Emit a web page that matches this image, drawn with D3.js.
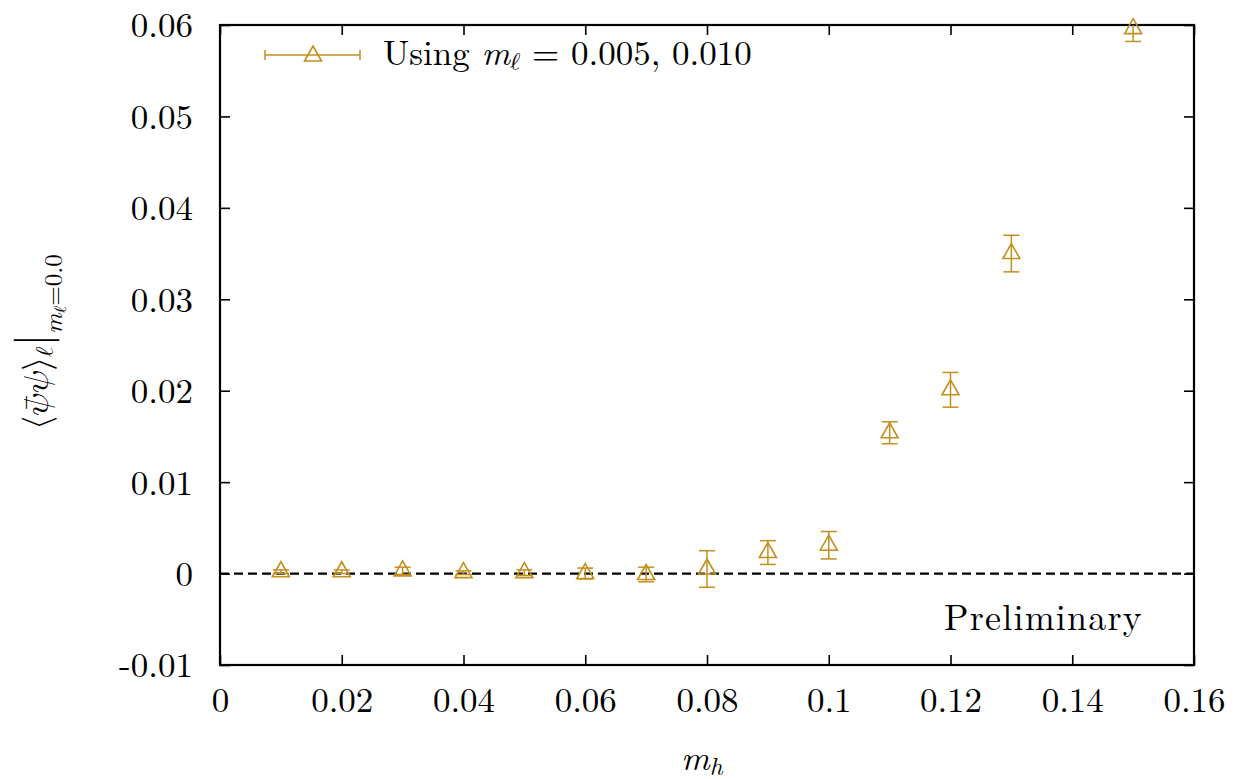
<!DOCTYPE html>
<html>
<head>
<meta charset="utf-8">
<script src="https://cdn.jsdelivr.net/npm/d3@7"></script>
<style>
  html, body { margin: 0; padding: 0; background: #fff; }
  svg { display: block; }
</style>
</head>
<body>
<svg id="chart" width="1239" height="779"></svg>
<script>
// Heavy-quark mass values and the light-quark condensate extrapolated to m_l = 0
const massH = [0.01, 0.02, 0.03, 0.04, 0.05, 0.06, 0.07, 0.08, 0.09, 0.10, 0.11, 0.12, 0.13, 0.15];
const condensate = [0.0002, 0.0002, 0.0003, 0.0001, 0.0001, 0.0000, -0.0001, 0.0005, 0.0023, 0.0031, 0.0154, 0.0201, 0.0350, 0.0596];
const errors = [0.0002, 0.0002, 0.0004, 0.0002, 0.0003, 0.0006, 0.0008, 0.0020, 0.0013, 0.0015, 0.0012, 0.0019, 0.0020, 0.0014];

const xTicks = [0, 0.02, 0.04, 0.06, 0.08, 0.10, 0.12, 0.14, 0.16];
const xTickLabels = ["0", "0.02", "0.04", "0.06", "0.08", "0.1", "0.12", "0.14", "0.16"];
const yTicks = [-0.01, 0, 0.01, 0.02, 0.03, 0.04, 0.05, 0.06];
const yTickLabels = ["-0.01", "0", "0.01", "0.02", "0.03", "0.04", "0.05", "0.06"];

const color = "#c28f1c";
const FONT = "'Latin Modern Roman', 'Latin Modern Math', 'STIX Two Math', 'FreeSerif', serif";
const MATH = "'Latin Modern Math', 'STIX Two Math', 'FreeSerif', serif";
const svg = d3.select("#chart");

const plotL = 220, plotR = 1194, plotT = 25, plotB = 665;
const x = d3.scaleLinear().domain([0, 0.16]).range([plotL, plotR]);
const y = d3.scaleLinear().domain([-0.01, 0.06]).range([plotB, plotT]);

const fontSize = 35;
const tickLen = 10;

// Axes with inward ticks on all four sides
const axisBottom = d3.axisBottom(x).tickValues(xTicks).tickSizeInner(-tickLen).tickSizeOuter(0).tickFormat((d, i) => xTickLabels[i]).tickPadding(22);
const axisTop = d3.axisTop(x).tickValues(xTicks).tickSizeInner(-tickLen).tickSizeOuter(0).tickFormat("");
const axisLeft = d3.axisLeft(y).tickValues(yTicks).tickSizeInner(-tickLen).tickSizeOuter(0).tickFormat((d, i) => yTickLabels[i]).tickPadding(27);
const axisRight = d3.axisRight(y).tickValues(yTicks).tickSizeInner(-tickLen).tickSizeOuter(0).tickFormat("");

function styleAxis(g) {
  g.select(".domain").remove();
  g.attr("font-family", FONT).attr("font-size", fontSize);
  g.selectAll(".tick line").attr("stroke", "#000").attr("stroke-width", 1.6);
  g.selectAll(".tick text").attr("fill", "#000")
    .style("font-family", FONT).style("font-size", fontSize + "px");
}

svg.append("g").attr("transform", `translate(0,${plotB})`).call(axisBottom).call(styleAxis)
  .selectAll(".tick text").attr("dy", "0.71em");
svg.append("g").attr("transform", `translate(0,${plotT})`).call(axisTop).call(styleAxis);
svg.append("g").attr("transform", `translate(${plotL},0)`).call(axisLeft).call(styleAxis)
  .selectAll(".tick text").attr("dy", "0.34em");
svg.append("g").attr("transform", `translate(${plotR},0)`).call(axisRight).call(styleAxis);

// Zero reference line
svg.append("line")
  .attr("x1", plotL).attr("x2", plotR)
  .attr("y1", y(0)).attr("y2", y(0))
  .attr("stroke", "#000").attr("stroke-width", 2.2)
  .attr("stroke-dasharray", "9,5");

// Frame
svg.append("rect")
  .attr("x", plotL).attr("y", plotT)
  .attr("width", plotR - plotL).attr("height", plotB - plotT)
  .attr("fill", "none").attr("stroke", "#000").attr("stroke-width", 2.2);

// Clip error bars to the plotting region
svg.append("clipPath").attr("id", "plotClip")
  .append("rect").attr("x", plotL).attr("y", plotT).attr("width", plotR - plotL).attr("height", plotB - plotT);

const points = massH.map((m, i) => ({ m, v: condensate[i], e: errors[i] }));
const capW = 8;

const bars = svg.append("g").attr("clip-path", "url(#plotClip)")
  .attr("stroke", color).attr("stroke-width", 1.5).attr("fill", "none");
points.forEach(p => {
  const cx = x(p.m), y1 = y(p.v - p.e), y2 = y(p.v + p.e);
  bars.append("line").attr("x1", cx).attr("x2", cx).attr("y1", y1).attr("y2", y2);
  bars.append("line").attr("x1", cx - capW).attr("x2", cx + capW).attr("y1", y1).attr("y2", y1);
  bars.append("line").attr("x1", cx - capW).attr("x2", cx + capW).attr("y1", y2).attr("y2", y2);
});

// Open triangle markers, centroid on the data point
const tri = (cx, cy) => `M${cx},${cy - 10}L${cx + 8.5},${cy + 5}L${cx - 8.5},${cy + 5}Z`;
svg.append("g").selectAll("path").data(points).join("path")
  .attr("d", d => tri(x(d.m), y(d.v)))
  .attr("fill", "none").attr("stroke", color).attr("stroke-width", 1.6);

function label(sel) {
  return sel.style("font-family", FONT).attr("fill", "#000");
}

// Legend
const ly = 55;
const lg = svg.append("g");
lg.append("line").attr("x1", 265).attr("x2", 360).attr("y1", ly).attr("y2", ly)
  .attr("stroke", color).attr("stroke-width", 1.5);
lg.append("line").attr("x1", 265).attr("x2", 265).attr("y1", ly - 5).attr("y2", ly + 5)
  .attr("stroke", color).attr("stroke-width", 1.5);
lg.append("line").attr("x1", 360).attr("x2", 360).attr("y1", ly - 5).attr("y2", ly + 5)
  .attr("stroke", color).attr("stroke-width", 1.5);
lg.append("path").attr("d", tri(313, ly + 1)).attr("fill", "none").attr("stroke", color).attr("stroke-width", 1.6);
const lt = label(lg.append("text")).attr("x", 383).attr("y", 65).style("font-size", fontSize + "px");
lt.append("tspan").text("Using ");
lt.append("tspan").attr("font-style", "italic").text("m");
lt.append("tspan").style("font-family", MATH).attr("dy", 5).style("font-size", "25px").text("ℓ");
lt.append("tspan").attr("dy", -5).text(" = 0.005, 0.010");

// Watermark
label(svg.append("text")).attr("x", 1143).attr("y", 630).attr("text-anchor", "end")
  .style("font-size", "36px").style("letter-spacing", "1.2px").text("Preliminary");

// X axis title
const xt = label(svg.append("text")).attr("x", 681).attr("y", 770).style("font-size", fontSize + "px");
xt.append("tspan").attr("font-style", "italic").text("m");
xt.append("tspan").attr("font-style", "italic").attr("dy", 5).style("font-size", "25px").text("h");

// Y axis title (rotated)
const yt = label(svg.append("text")).attr("transform", "translate(48,342) rotate(-90)")
  .attr("text-anchor", "middle").style("font-size", fontSize + "px");
yt.append("tspan").style("font-family", MATH).text("⟨");
yt.append("tspan").style("font-family", MATH).text("𝜓̄𝜓");
yt.append("tspan").style("font-family", MATH).text("⟩");
yt.append("tspan").style("font-family", MATH).attr("dy", 5).style("font-size", "25px").text("ℓ");
yt.append("tspan").style("font-family", MATH).attr("dy", -5).style("font-size", "46px").text("|");
yt.append("tspan").attr("font-style", "italic").attr("dy", 14).style("font-size", "25px").text("m");
yt.append("tspan").style("font-family", MATH).attr("dy", 4).style("font-size", "18px").text("ℓ");
yt.append("tspan").attr("dy", -4).style("font-size", "25px").text("=0.0");
</script>
</body>
</html>
